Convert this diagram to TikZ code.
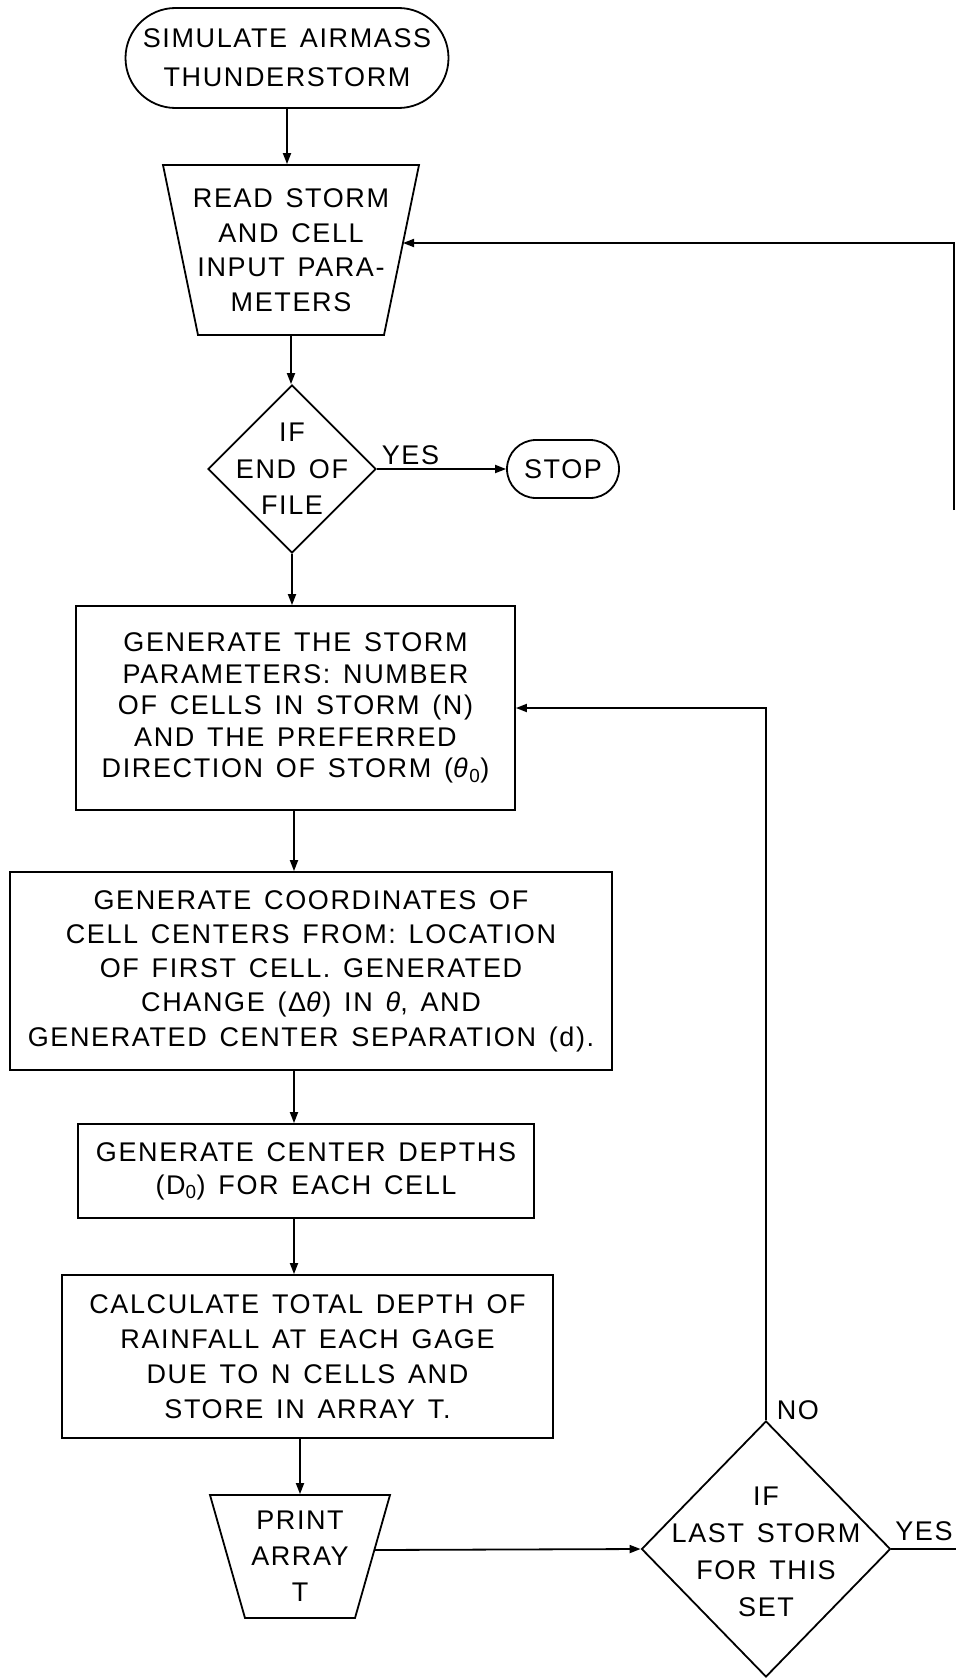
\documentclass[tikz,border=0pt]{standalone}
\usepackage{fontspec}
\setmainfont{Liberation Sans}[LetterSpace=6,WordSpace=1.4]
\usetikzlibrary{arrows.meta,calc,shapes.geometric}
\begin{document}
\begin{tikzpicture}[x=1pt,y=-1pt,line width=1.8pt,
  fs/.style={font=\fontsize{27}{#1}\selectfont},
  box/.style={draw,rectangle,inner sep=0pt,align=center},
  term/.style={draw,rectangle,inner sep=0pt,align=center},
  dec/.style={draw,diamond,inner sep=0pt},
  txt/.style={inner sep=0pt,align=center},
  lbl/.style={inner sep=0pt,anchor=base west,font=\fontsize{27}{30}\selectfont},
  arr/.style={-{Triangle[length=11pt,width=8pt]}},
]
\useasboundingbox (0,0) rectangle (956,1678);

% nodes
\node[term,fs=39,rounded corners=50pt,minimum width=323pt,minimum height=100pt] (start) at (287,58) {SIMULATE AIRMASS\\THUNDERSTORM};

\node[txt,fs=34.5,minimum height=170pt] (read) at (291,250) {READ STORM\\AND CELL\\INPUT PARA-\\METERS};
\draw (163,165) -- (419,165) -- (384,335) -- (198,335) -- cycle;
\coordinate (readR) at (403,243);

\node[dec,minimum width=168pt,minimum height=168pt] (dia1) at (292,469) {};
\node[txt,fs=36.5] (dia1t) at (292,469) {IF\\END OF\\FILE};

\node[term,fs=30,rounded corners=29pt,minimum width=112pt,minimum height=58pt] (stop) at (563,469) {STOP};

\node[box,fs=31.5,minimum width=439pt,minimum height=204pt] (box1) at (295.5,708) {GENERATE THE STORM\\PARAMETERS: NUMBER\\OF CELLS IN STORM (N)\\AND THE PREFERRED\\DIRECTION OF STORM (\textit{θ}\textsubscript{0})};

\node[box,fs=34.25,minimum width=602pt,minimum height=198pt] (box2) at (311,971) {GENERATE COORDINATES OF\\CELL CENTERS FROM: LOCATION\\OF FIRST CELL. GENERATED\\CHANGE (Δ\textit{θ}) IN \textit{θ}, AND\\GENERATED CENTER SEPARATION (d).};

\node[box,fs=33,minimum width=456pt,minimum height=94pt] (box3) at (306,1171) {GENERATE CENTER DEPTHS\\(D\textsubscript{0}) FOR EACH CELL};

\node[box,fs=35,minimum width=491pt,minimum height=163pt] (box4) at (307.5,1356.5) {CALCULATE TOTAL DEPTH OF\\RAINFALL AT EACH GAGE\\DUE TO N CELLS AND\\STORE IN ARRAY T.};

\node[txt,fs=36,minimum height=123pt] (print) at (300,1556.5) {PRINT\\ARRAY\\T};
\draw (210,1495) -- (390,1495) -- (355,1618) -- (245,1618) -- cycle;
\coordinate (printR) at (374,1550);

\node[dec,minimum width=249pt,minimum height=256pt] (dia2) at (766,1549) {};
\node[txt,fs=37] (dia2t) at (766,1552) {IF\\LAST STORM\\FOR THIS\\SET};

\coordinate (col) at (294,0);
\coordinate (yesEnd) at (956,1549);
\coordinate (retStart) at (954,510);

% connectors
\draw[arr] (start.south) -- (start.south |- read.north);
\draw[arr] (read.south) -- (read.south |- dia1.north);
\draw[arr] (dia1.east) -- (stop.west);
\draw[arr] (dia1.south) -- (dia1.south |- box1.north);
\draw[arr] (col |- box1.south) -- (col |- box2.north);
\draw[arr] (col |- box2.south) -- (col |- box3.north);
\draw[arr] (col |- box3.south) -- (col |- box4.north);
\draw[arr] (print.north |- box4.south) -- (print.north);
\draw[arr] (printR) -- (dia2.west);
\draw[arr] (dia2.north) |- (box1.east);
\draw (dia2.east) -- (yesEnd);
\draw[arr] (retStart) |- (readR);

% labels
\node[lbl] at ($(dia1.east)+(4,-5)$) {YES};
\node[lbl] at ($(dia2.north)+(10,-1)$) {NO};
\node[lbl] at ($(dia2.east)+(3,-9)$) {YES};
\end{tikzpicture}
\end{document}
